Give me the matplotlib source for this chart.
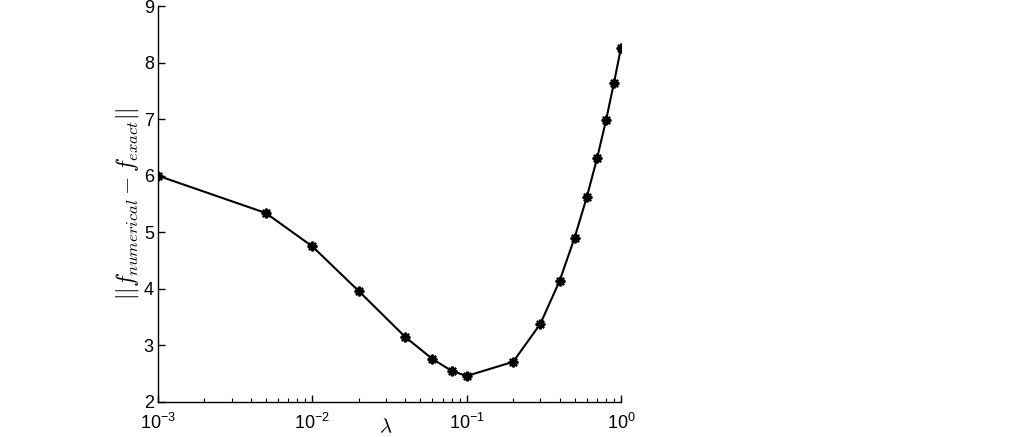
import numpy as np
import matplotlib
matplotlib.use("Agg")
import matplotlib.pyplot as plt
from matplotlib.ticker import LogLocator, FixedLocator, FuncFormatter

# regularisation parameter and error norm
lam = [0.001, 0.005, 0.01, 0.02, 0.04, 0.06, 0.08, 0.1, 0.2, 0.3, 0.4,
       0.5, 0.6, 0.7, 0.8, 0.9, 1.0]
err = [6.00, 5.34, 4.75, 3.96, 3.15, 2.76, 2.55, 2.46, 2.71, 3.38, 4.14,
       4.90, 5.62, 6.31, 6.98, 7.64, 8.26]
yticks = [2, 3, 4, 5, 6, 7, 8, 9]

plt.rcParams["font.family"] = ["Liberation Sans", "DejaVu Sans"]
plt.rcParams["mathtext.fontset"] = "cm"

fig = plt.figure(figsize=(10.24, 4.37), dpi=100)
ax = fig.add_axes([158 / 1024, 35 / 437, 463 / 1024, 396 / 437])

# MATLAB-style asterisk marker (8 spokes)
ax.semilogx(lam, err, color="black", lw=1.5, marker=(8, 2, 0), ms=7,
            markeredgewidth=1.6)

ax.set_xlim(1e-3, 1)
ax.set_ylim(2, 9)
ax.yaxis.set_major_locator(FixedLocator(yticks))
ax.xaxis.set_major_locator(LogLocator(base=10, numticks=10))
ax.xaxis.set_minor_locator(LogLocator(base=10, subs=np.arange(2, 10), numticks=10))
ax.xaxis.set_major_formatter(FuncFormatter(
    lambda v, p: r"$\mathregular{10^{%d}}$" % round(np.log10(v))))

for s in ["top", "right"]:
    ax.spines[s].set_visible(False)
for s in ["left", "bottom"]:
    ax.spines[s].set_linewidth(1.0)

ax.tick_params(which="major", direction="in", length=5, width=1.0,
               labelsize=13, pad=3)
ax.tick_params(axis="x", which="major", pad=8)
ax.tick_params(which="minor", direction="in", length=3, width=0.8)

ax.set_xlabel(r"$\lambda$", fontsize=15)
ax.xaxis.label.set_va("center")
ax.xaxis.set_label_coords(0.492, -0.063)
ax.set_ylabel(r"$||f_{numerical}-f_{exact}||$", fontsize=17, labelpad=2)

fig.savefig("out.png", dpi=100)
